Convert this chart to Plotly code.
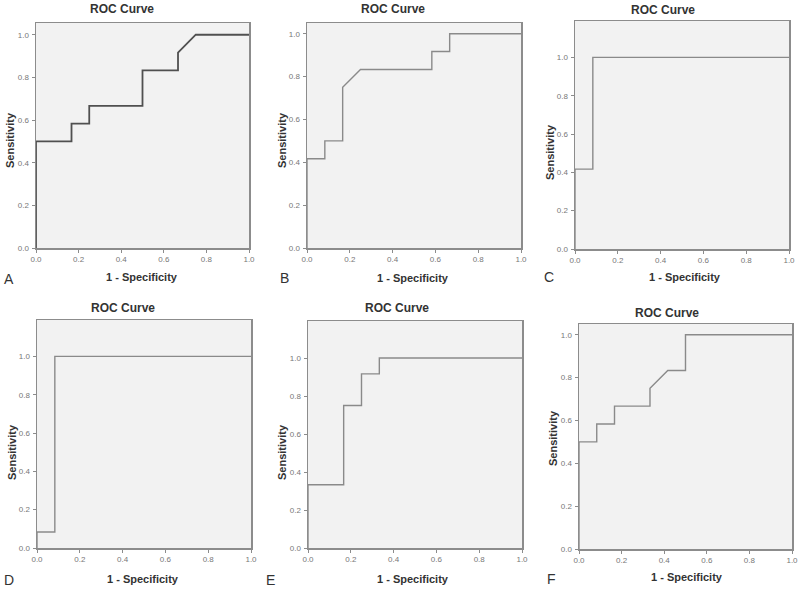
import plotly.graph_objects as go

W, H = 800, 589

# ROC curve data (1 - Specificity, Sensitivity)
A_x = [0, 0, 0.1667, 0.1667, 0.25, 0.25, 0.5, 0.5, 0.6667, 0.6667, 0.75, 1.0]
A_y = [0, 0.5, 0.5, 0.5833, 0.5833, 0.6667, 0.6667, 0.8333, 0.8333, 0.9167, 1.0, 1.0]

B_x = [0, 0, 0.0833, 0.0833, 0.1667, 0.1667, 0.25, 0.5833, 0.5833, 0.6667, 0.6667, 1.0]
B_y = [0, 0.4167, 0.4167, 0.5, 0.5, 0.75, 0.8333, 0.8333, 0.9167, 0.9167, 1.0, 1.0]

C_x = [0, 0, 0.0833, 0.0833, 1.0]
C_y = [0, 0.4167, 0.4167, 1.0, 1.0]

D_x = [0, 0, 0.0833, 0.0833, 1.0]
D_y = [0, 0.0833, 0.0833, 1.0, 1.0]

E_x = [0, 0, 0.1667, 0.1667, 0.25, 0.25, 0.3333, 0.3333, 1.0]
E_y = [0, 0.3333, 0.3333, 0.75, 0.75, 0.9167, 0.9167, 1.0, 1.0]

F_x = [0, 0, 0.0833, 0.0833, 0.1667, 0.1667, 0.3333, 0.3333, 0.4167, 0.5, 0.5, 1.0]
F_y = [0, 0.5, 0.5, 0.5833, 0.5833, 0.6667, 0.6667, 0.75, 0.8333, 0.8333, 1.0, 1.0]

tick_vals = [0.0, 0.2, 0.4, 0.6, 0.8, 1.0]
tick_text = ["0.0", "0.2", "0.4", "0.6", "0.8", "1.0"]

panels = [
    # letter, xs, ys, box(px l, r, t, b), ymax, title(x,y), xtitle(x,y), ytitle(x,y), letter(x,y), color, width
    ("A", A_x, A_y, (36, 249, 23, 248), 1.055, (122, 9), (142, 277), (10, 140), (9, 279), "#505050", 1.8),
    ("B", B_x, B_y, (307, 521, 23, 248), 1.05, (393, 9), (413, 278), (282, 140), (284, 278), "#8a8a8a", 1.4),
    ("C", C_x, C_y, (575, 789, 21, 249), 1.19, (663, 10), (685, 277), (550, 152), (549, 277), "#8a8a8a", 1.4),
    ("D", D_x, D_y, (37, 251, 320, 548), 1.19, (123, 308), (143, 579), (12, 452), (9, 580), "#8a8a8a", 1.4),
    ("E", E_x, E_y, (308, 522, 321, 548), 1.195, (397, 308), (413, 579), (282, 452), (270, 580), "#8a8a8a", 1.4),
    ("F", F_x, F_y, (579, 792, 324, 549), 1.05, (667, 313), (687, 577), (553, 438), (551, 579), "#8a8a8a", 1.4),
]

fig = go.Figure()
annotations = []
layout_axes = {}

for i, (let, xs, ys, box, ymax, tpos, xtpos, ytpos, lpos, col, lw) in enumerate(panels):
    n = i + 1
    xa = "x" if n == 1 else f"x{n}"
    ya = "y" if n == 1 else f"y{n}"
    l, r, t, b = box
    fig.add_trace(go.Scatter(x=xs, y=ys, mode="lines", xaxis=xa, yaxis=ya,
                             line=dict(color=col, width=lw), showlegend=False,
                             hoverinfo="skip", cliponaxis=False))
    axcommon = dict(showgrid=False, zeroline=False, showline=True, linecolor="#8c8c8c",
                    linewidth=1.5, mirror=True, ticks="outside", ticklen=3,
                    tickcolor="#8c8c8c", tickwidth=1, automargin=False,
                    tickvals=tick_vals, ticktext=tick_text,
                    tickfont=dict(family="Liberation Sans, Arial", size=8, color="#777777"),
                    fixedrange=True)
    layout_axes["xaxis" if n == 1 else f"xaxis{n}"] = dict(
        axcommon, domain=[l / W, r / W], range=[0, 1.0],
        anchor=ya)
    layout_axes["yaxis" if n == 1 else f"yaxis{n}"] = dict(
        axcommon, domain=[(H - b) / H, (H - t) / H], range=[0, ymax],
        anchor=xa, ticklabelstandoff=1)
    annotations.append(dict(text="<b>ROC Curve</b>", x=tpos[0] / W, y=(H - tpos[1]) / H,
                            xref="paper", yref="paper", showarrow=False,
                            xanchor="center", yanchor="middle",
                            font=dict(family="Liberation Sans, Arial", size=12, color="#333333")))
    annotations.append(dict(text="<b>1 - Specificity</b>", x=xtpos[0] / W, y=(H - xtpos[1]) / H,
                            xref="paper", yref="paper", showarrow=False,
                            xanchor="center", yanchor="middle",
                            font=dict(family="Liberation Sans, Arial", size=11, color="#333333")))
    annotations.append(dict(text="<b>Sensitivity</b>", x=ytpos[0] / W, y=(H - ytpos[1]) / H,
                            xref="paper", yref="paper", showarrow=False, textangle=-90,
                            xanchor="center", yanchor="middle",
                            font=dict(family="Liberation Sans, Arial", size=11, color="#333333")))
    annotations.append(dict(text=let, x=lpos[0] / W, y=(H - lpos[1]) / H,
                            xref="paper", yref="paper", showarrow=False,
                            xanchor="center", yanchor="middle",
                            font=dict(family="Liberation Sans, Arial", size=14, color="#333333")))
    # plot-area background
    fig.add_shape(type="rect", xref="paper", yref="paper",
                  x0=l / W, x1=r / W, y0=(H - b) / H, y1=(H - t) / H,
                  fillcolor="#f2f2f2", line=dict(width=0), layer="below")

fig.update_layout(width=W, height=H, margin=dict(l=0, r=0, t=0, b=0, autoexpand=False),
                  paper_bgcolor="white", plot_bgcolor="rgba(0,0,0,0)",
                  annotations=annotations, showlegend=False, **layout_axes)

fig.write_html("out.html", config={"displayModeBar": False, "staticPlot": True},
               post_script="document.body.style.margin='0';document.body.style.overflow='hidden';")
